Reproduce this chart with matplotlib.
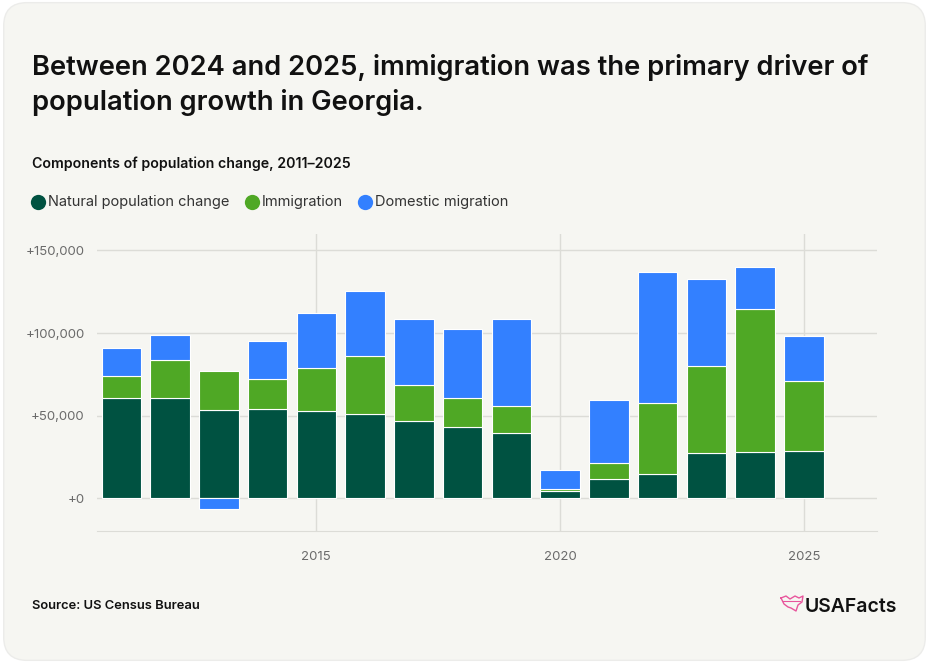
import matplotlib.pyplot as plt
from matplotlib.patches import FancyBboxPatch
from matplotlib.ticker import FuncFormatter

plt.rcParams['font.family'] = ['Inter', 'DejaVu Sans']

# Datos
anos = [2011, 2012, 2013, 2014, 2015, 2016, 2017, 2018, 2019, 2020, 2021, 2022, 2023, 2024, 2025]
natural = [61000, 61000, 53500, 54300, 52900, 51300, 46600, 43000, 39400, 4600, 11500, 14700, 27400, 27900, 28500]
inmigracion = [12900, 22600, 23400, 17800, 26200, 35100, 21800, 17700, 16500, 1200, 10100, 42800, 52900, 86600, 42400]
domestica = [17100, 15100, -6300, 23200, 32900, 38800, 40000, 41600, 52700, 11600, 37600, 79400, 52700, 25600, 27400]

etiquetas = ["Natural population change", "Immigration", "Domestic migration"]
colores = ["#005241", "#4fa825", "#3380ff"]

W, H = 929, 663
fig = plt.figure(figsize=(W / 100, H / 100), dpi=100)
fig.patch.set_facecolor("white")


def fx(px):
    return px / W


def fy(py):
    return 1 - py / H


# Tarjeta de fondo redondeada (detrás de todo)
tarjeta = FancyBboxPatch((0.004, 0.004), 0.992, 0.992, boxstyle="round,pad=0,rounding_size=0.025",
                         transform=fig.transFigure, facecolor="#f6f6f2", edgecolor="#ececea",
                         linewidth=1, mutation_aspect=W / H, zorder=-10)
fig.add_artist(tarjeta)

ax = fig.add_axes([0.1044, 0.1986, 0.8396, 0.4485])
ax.set_facecolor("none")

# Barras apiladas; la migración doméstica negativa se apila bajo cero
base_dom = []
for n, i, d in zip(natural, inmigracion, domestica):
    base_dom.append(n + i if d >= 0 else 0)

kw = dict(width=0.81, edgecolor="white", linewidth=0.8, zorder=3)
ax.bar(anos, natural, color=colores[0], **kw)
ax.bar(anos, inmigracion, bottom=natural, color=colores[1], **kw)
ax.bar(anos, domestica, bottom=base_dom, color=colores[2], **kw)

ax.set_xlim(2010.5, 2026.5)
ax.set_ylim(-20000, 160000)
ax.set_yticks([0, 50000, 100000, 150000])
ax.yaxis.set_major_formatter(FuncFormatter(lambda v, p: "+{:,.0f}".format(v)))
ax.set_xticks([2015, 2020, 2025])

ax.grid(axis="y", color="#dcdcd7", linewidth=1, zorder=0)
for x in [2015, 2020, 2025]:
    ax.axvline(x, color="#dcdcd7", linewidth=1, zorder=0)

for s in ["top", "right", "left"]:
    ax.spines[s].set_visible(False)
ax.spines["bottom"].set_color("#dcdcd7")
ax.tick_params(axis="both", length=0, colors="#6b6b6b", labelsize=9.5)
ax.tick_params(axis="y", pad=9)
ax.tick_params(axis="x", pad=14)

# Títulos
fig.text(fx(32), fy(75), "Between 2024 and 2025, immigration was the primary driver of",
         fontsize=19.7, fontweight="semibold", color="#111111", va="baseline")
fig.text(fx(32), fy(110), "population growth in Georgia.",
         fontsize=19.7, fontweight="semibold", color="#111111", va="baseline")
fig.text(fx(32), fy(168), "Components of population change, 2011\u20132025",
         fontsize=10.2, fontweight="semibold", color="#111111", va="baseline")

# Leyenda con círculos
lx = 38.5
for lab, col in zip(etiquetas, colores):
    fig.add_artist(plt.Line2D([fx(lx)], [fy(202)], transform=fig.transFigure, marker="o",
                              markersize=11, color=col, markeredgewidth=0, linestyle="none"))
    t = fig.text(fx(lx + 10), fy(202), lab, fontsize=10.5, color="#333333", va="center")
    fig.canvas.draw()
    bb = t.get_window_extent()
    lx = bb.x1 + 22

fig.text(fx(32), fy(609), "Source: US Census Bureau", fontsize=9.3, fontweight="semibold",
         color="#111111", va="baseline")

# Logo USAFacts
fig.text(fx(897), fy(612), "USAFacts", fontsize=14, fontweight="semibold", color="#111111",
         va="baseline", ha="right")
logo_x = [781, 786, 790, 795, 799, 803, 802, 798, 796, 791, 788, 784, 781]
logo_y = [598, 596, 599, 596, 598, 596, 602, 605, 611, 608, 607, 604, 598]
fig.add_artist(plt.Line2D([fx(x) for x in logo_x], [fy(y) for y in logo_y],
                          transform=fig.transFigure, color="#e8559c", linewidth=1))
fig.add_artist(plt.Line2D([fx(783), fx(800)], [fy(601), fy(601)],
                          transform=fig.transFigure, color="#e8559c", linewidth=0.8))

fig.savefig("out.png", dpi=100, facecolor=fig.get_facecolor())
